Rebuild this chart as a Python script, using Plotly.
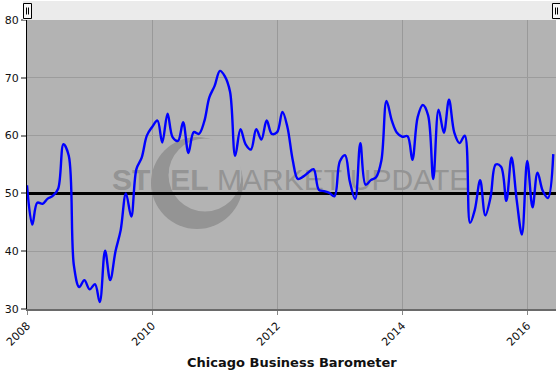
import plotly.graph_objects as go
import pandas as pd

# ---------------- data ----------------
START_MONTH = "2008-01-01"
V2008 = [51.4, 44.6, 48.4, 48.2, 49.1, 49.6, 50.8, 58.5, 56.5, 37.5, 33.8, 35.0]
V2009 = [33.4, 34.3, 31.2, 40.1, 35.0, 40.0, 43.6, 50.0, 46.0, 54.2, 56.2, 60.0]
V2010 = [61.5, 62.6, 58.8, 63.8, 59.7, 59.1, 62.3, 57.0, 60.6, 60.3, 62.4, 66.6]
V2011 = [68.6, 71.2, 70.3, 67.6, 56.5, 61.1, 58.5, 57.6, 61.1, 59.3, 62.6, 60.3]
V2012 = [60.6, 64.1, 61.5, 55.8, 52.5, 52.9, 53.6, 54.2, 50.6, 50.4, 50.1, 49.5]
V2013 = [55.5, 56.6, 52.0, 49.0, 58.7, 51.5, 52.3, 52.8, 55.7, 66.0, 62.6, 60.5]
V2014 = [59.8, 59.9, 55.8, 63.2, 65.3, 63.5, 52.5, 64.5, 60.5, 66.2, 60.5, 58.7]
V2015 = [60.0, 44.9, 47.2, 52.3, 46.2, 49.4, 55.0, 54.6, 48.7, 56.2, 48.7, 42.9]
V2016 = [55.6, 47.6, 53.6, 50.4, 49.2, 56.8]

values = V2008 + V2009 + V2010 + V2011 + V2012 + V2013 + V2014 + V2015 + V2016
dates = pd.date_range(START_MONTH, periods=len(values), freq="MS")

X_RANGE = ["2008-01-01", "2016-06-17"]
X_TICKS = ["2008-01-01", "2010-01-01", "2012-01-01", "2014-01-01", "2016-01-01"]
X_TICK_LABELS = ["2008", "2010", "2012", "2014", "2016"]
Y_RANGE = [30, 80]
Y_TICKS = [30, 40, 50, 60, 70, 80]
REFERENCE_LEVEL = 50
TITLE = "Chicago Business Barometer"
WATERMARK = "<b>STEEL</b> MARKET UPDATE"
WATERMARK_POS = ("2012-03-20", 51.9)

# ---------------- layout geometry ----------------
W, H = 560, 374
L, R, T, B = 27, 4, 20, 65
PW, PH = W - L - R, H - T - B


def px(xp, yp):
    return (xp - L) / PW, (H - B - yp) / PH


PLOT_BG = "#b3b3b3"
WM_COLOR = "#949494"

shapes = []
# plot background (drawn below grid)
shapes.append(dict(type="rect", xref="paper", yref="paper", x0=0, x1=1, y0=0, y1=1,
                   fillcolor=PLOT_BG, line=dict(width=0), layer="below"))


# watermark crescent
def circ(cx, cy, r, color):
    x0, y0 = px(cx - r, cy + r)
    x1, y1 = px(cx + r, cy - r)
    return dict(type="circle", xref="paper", yref="paper", x0=x0, x1=x1, y0=y0, y1=y1,
                fillcolor=color, line=dict(width=0), layer="below")


shapes.append(circ(197, 183, 46, WM_COLOR))
shapes.append(circ(205, 175, 36.5, PLOT_BG))

# navigator band on top
bx0, by0 = px(23, 20)
bx1, by1 = px(560, 1)
shapes.append(dict(type="rect", xref="paper", yref="paper", x0=bx0, x1=bx1, y0=by0, y1=by1,
                   fillcolor="#ebebeb", line=dict(width=0), layer="above"))
for hc in (27.5, 556.5):
    hx0, hy0 = px(hc - 4, 18.5)
    hx1, hy1 = px(hc + 4, 3.5)
    shapes.append(dict(type="rect", xref="paper", yref="paper", x0=hx0, x1=hx1, y0=hy0, y1=hy1,
                       fillcolor="#f7f7f7", line=dict(color="#000000", width=1), layer="above"))
    for dx in (-1, 1):
        lx, ly0 = px(hc + dx, 14.5)
        _, ly1 = px(hc + dx, 7.5)
        shapes.append(dict(type="line", xref="paper", yref="paper", x0=lx, x1=lx, y0=ly0, y1=ly1,
                           line=dict(color="#000000", width=1), layer="above"))

fig = go.Figure()
fig.add_trace(go.Scatter(x=[WATERMARK_POS[0]], y=[WATERMARK_POS[1]], mode="text",
                         text=[WATERMARK], hoverinfo="skip",
                         textfont=dict(family="Liberation Sans, Arial, sans-serif", size=30,
                                       color=WM_COLOR)))
# reference level line (drawn as a trace so it sits above the grid, below the series)
fig.add_trace(go.Scatter(x=X_RANGE, y=[REFERENCE_LEVEL, REFERENCE_LEVEL], mode="lines",
                         hoverinfo="skip", line=dict(color="#000000", width=3)))
fig.add_trace(go.Scatter(x=dates, y=values, mode="lines",
                         line=dict(color="#0000ff", width=2.4, shape="spline", smoothing=1)))

fig.update_layout(
    width=W, height=H,
    margin=dict(l=L, r=R, t=T, b=B, pad=0, autoexpand=False),
    paper_bgcolor="#ffffff",
    plot_bgcolor="rgba(0,0,0,0)",
    showlegend=False,
    shapes=shapes,
    font=dict(family="DejaVu Sans, Verdana, sans-serif", size=11, color="#222222"),
    xaxis=dict(type="date", range=X_RANGE, tickmode="array", tickvals=X_TICKS,
               ticktext=X_TICK_LABELS, tickangle=-45, showgrid=True, gridcolor="#999999",
               gridwidth=1, showline=True, linecolor="#6a6a6a", linewidth=2,
               ticks="outside", ticklen=4, tickcolor="#888888", tickwidth=1,
               tickfont=dict(size=11, color="#111111"), zeroline=False, fixedrange=True),
    yaxis=dict(range=Y_RANGE, tickmode="array", tickvals=Y_TICKS, showgrid=True,
               gridcolor="#9c9c9c", gridwidth=1, showline=True, linecolor="#000000",
               linewidth=1, ticks="outside", ticklen=5, tickcolor="#888888", tickwidth=2,
               tickfont=dict(size=11, color="#111111"), zeroline=False, fixedrange=True),
    annotations=[dict(text="<b>" + TITLE + "</b>", xref="paper", yref="paper",
                      x=0.5, y=px(0, 362)[1], xanchor="center", yanchor="middle",
                      showarrow=False, font=dict(size=13, color="#111111",
                                                 family="DejaVu Sans, Verdana, sans-serif"))],
)

fig.write_html("out.html")
